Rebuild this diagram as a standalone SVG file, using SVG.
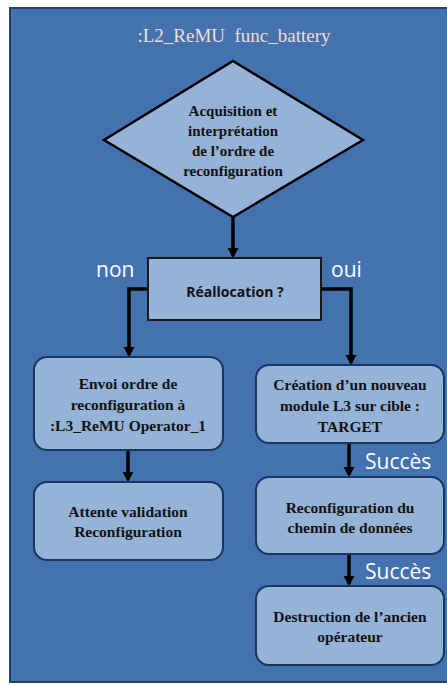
<svg xmlns="http://www.w3.org/2000/svg" width="447" height="686" viewBox="0 0 447 686">
<defs>
<marker id="ah" markerWidth="12" markerHeight="12" refX="8" refY="5.5" orient="auto" markerUnits="userSpaceOnUse">
<path d="M0,0 L10,5.5 L0,11 Z" fill="#000"/>
</marker>
<style>
.box{fill:#95B3D7;stroke:#17375E;stroke-width:2}
.t{font-family:"Liberation Serif",serif;font-weight:bold;font-size:15.5px;fill:#111;text-anchor:middle}
.lbl{font-family:"Open Sans","Liberation Sans",sans-serif;font-size:21px;fill:#fff}
.c{fill:none;stroke:#000;stroke-width:3.5}
</style>
</defs>
<rect x="0" y="0" width="447" height="686" fill="#fff"/>
<rect id="frame" x="10" y="8" width="440" height="674" fill="#4472AE" stroke="#244266" stroke-width="2"/>
<text x="234" y="42" font-family="Liberation Serif, serif" font-size="19" fill="#F2DDD6" text-anchor="middle" xml:space="preserve">:L2_ReMU  func_battery</text>
<g id="connectors">
<path class="c" d="M233,217 V256" marker-end="url(#ah)"/>
<path class="c" d="M148,289 H129 V355" marker-end="url(#ah)"/>
<path class="c" d="M321,289 H351 V363" marker-end="url(#ah)"/>
<path class="c" d="M128,450 V480" marker-end="url(#ah)"/>
<path class="c" d="M349,444 V475" marker-end="url(#ah)"/>
<path class="c" d="M349,555 V584" marker-end="url(#ah)"/>
</g>
<g id="n_acq">
<polygon points="233,61 363,140 233,217 104,140" fill="#95B3D7" stroke="#000" stroke-width="2.5"/>
<text class="t" x="233" y="116" style="font-size:15px">Acquisition et</text>
<text class="t" x="233" y="136" style="font-size:15px">interprétation</text>
<text class="t" x="233" y="156" style="font-size:15px">de l’ordre de</text>
<text class="t" x="233" y="176" style="font-size:15px">reconfiguration</text>
</g>
<g id="n_realloc">
<rect x="148" y="258" width="173" height="62" fill="#95B3D7" stroke="#1a1a1a" stroke-width="2"/>
<text x="235" y="297" font-family="Open Sans, Liberation Sans, sans-serif" font-weight="bold" font-size="14" fill="#111" text-anchor="middle">Réallocation ?</text>
</g>
<text class="lbl" x="96" y="277">non</text>
<text class="lbl" x="331" y="277">oui</text>
<g id="n_envoi">
<rect class="box" x="34" y="357" width="189" height="93" rx="13"/>
<text class="t" x="128" y="389">Envoi ordre de</text>
<text class="t" x="128" y="410">reconfiguration à</text>
<text class="t" x="128" y="431">:L3_ReMU Operator_1</text>
</g>
<g id="n_attente">
<rect class="box" x="34" y="482" width="189" height="78" rx="13"/>
<text class="t" x="128" y="517">Attente validation</text>
<text class="t" x="128" y="537">Reconfiguration</text>
</g>
<g id="n_creation">
<rect class="box" x="256" y="365" width="188" height="78" rx="13"/>
<text class="t" x="350" y="390">Création d’un nouveau</text>
<text class="t" x="350" y="411">module L3  sur cible :</text>
<text class="t" x="350" y="432">TARGET</text>
</g>
<text class="lbl" x="365" y="469">Succès</text>
<g id="n_reconf">
<rect class="box" x="256" y="477" width="188" height="77" rx="13"/>
<text class="t" x="350" y="513">Reconfiguration du</text>
<text class="t" x="350" y="533">chemin de données</text>
</g>
<text class="lbl" x="365" y="579">Succès</text>
<g id="n_destr">
<rect class="box" x="256" y="586" width="188" height="79" rx="13"/>
<text class="t" x="350" y="622">Destruction de l’ancien</text>
<text class="t" x="350" y="642">opérateur</text>
</g>
</svg>
